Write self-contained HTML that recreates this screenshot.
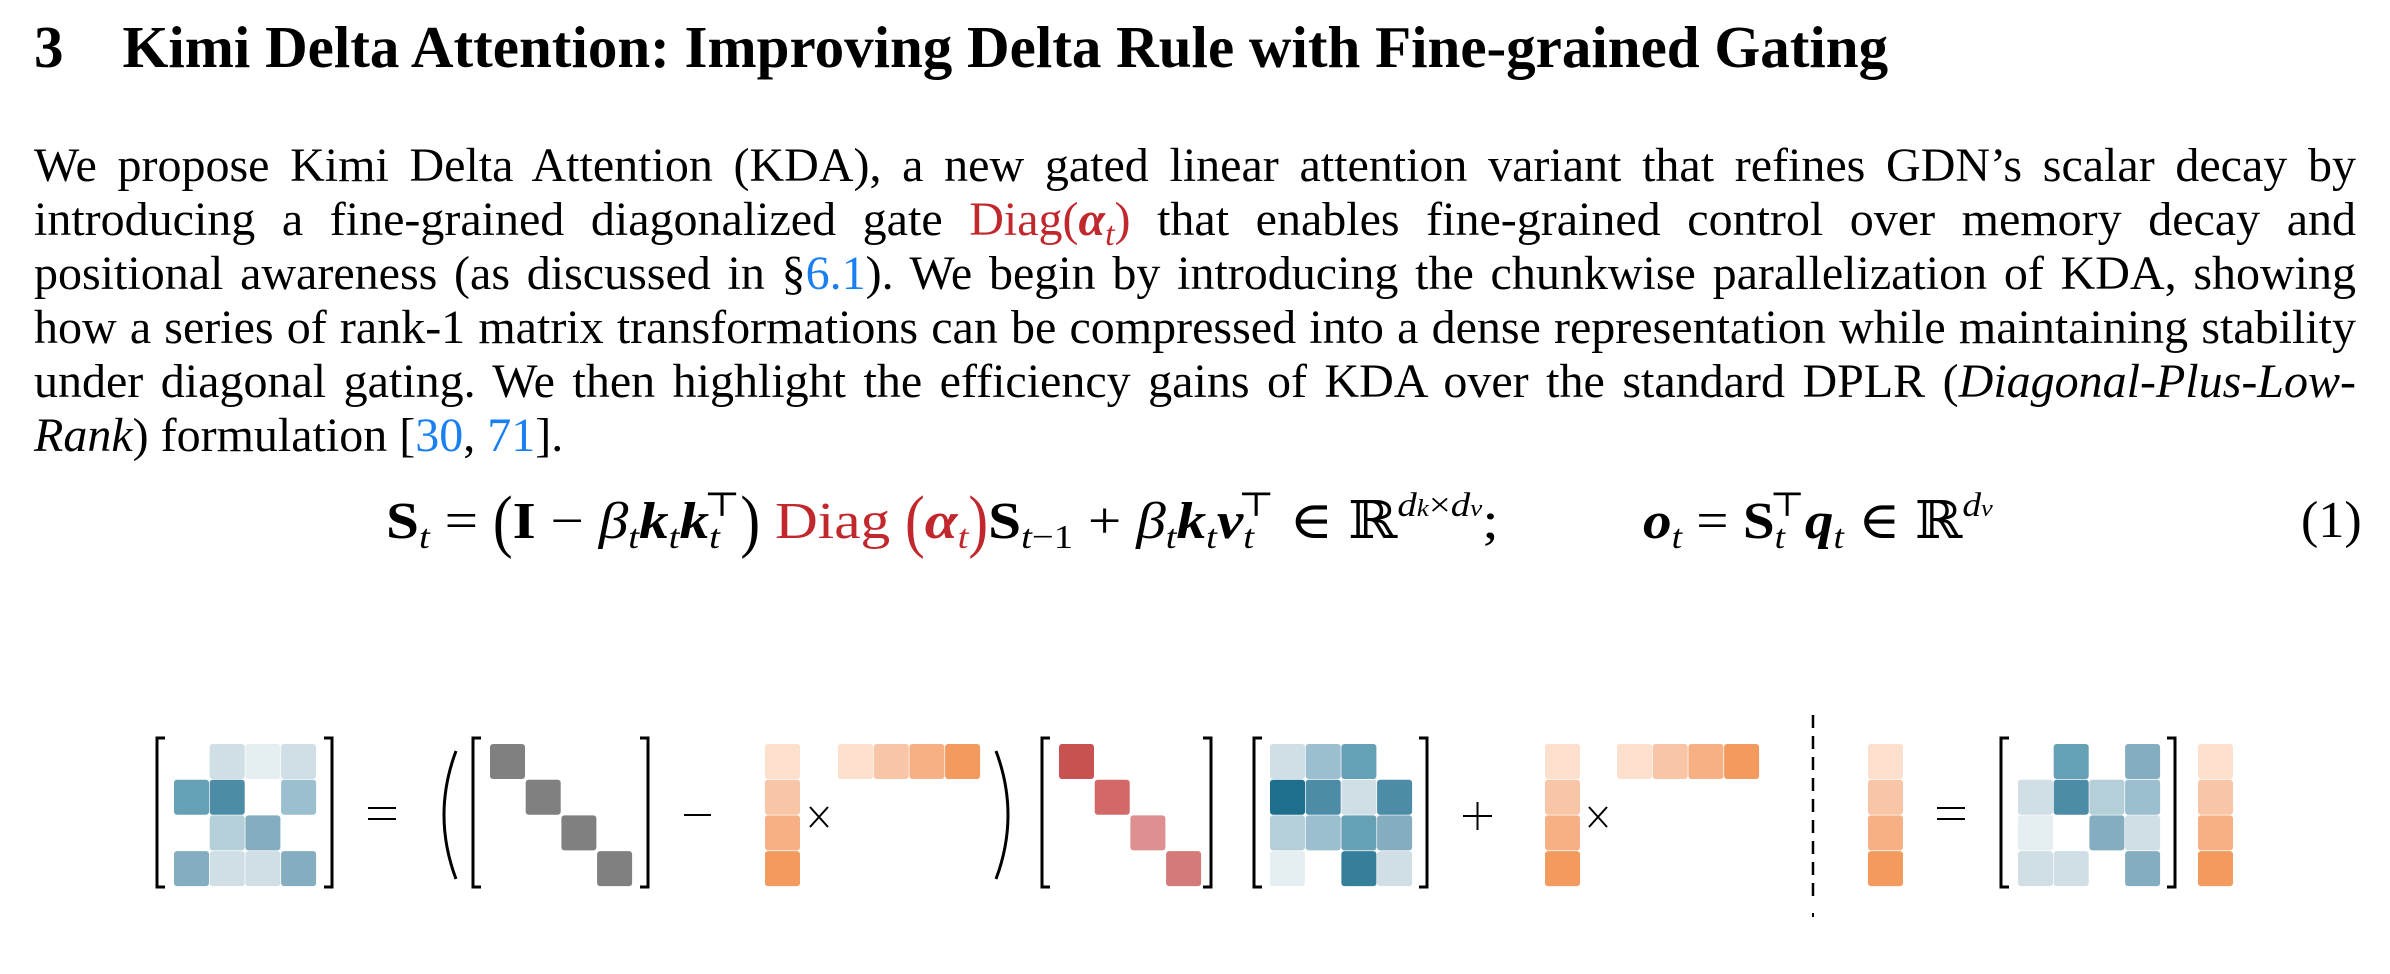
<!DOCTYPE html>
<html><head><meta charset="utf-8"><style>
html,body{margin:0;padding:0;background:#fff;}
body{width:2390px;height:974px;position:relative;overflow:hidden;font-family:"Liberation Serif",serif;color:#000;}
.title{position:absolute;left:34px;top:18px;font-size:59px;line-height:59px;font-weight:bold;white-space:nowrap;}
.para{position:absolute;left:34px;top:139px;width:2322px;font-size:48px;line-height:54px;text-align:justify;text-align-last:left;}
.blue{color:#1a80f0}
.red{color:#c0282d}
.eq{position:absolute;top:491px;font-size:52px;line-height:normal;white-space:nowrap;transform-origin:0 0;}
.b{font-weight:bold}
.i{font-style:italic}
.bi{font-weight:bold;font-style:italic}
sub,sup{font-size:34px;line-height:0;}
sub{vertical-align:-10px}
sup{vertical-align:22px}
.dj{font-family:"DejaVu Serif",serif;}
.big{display:inline-block;transform:scale(1,1.35);}
</style></head><body>
<div class="title">3&nbsp;&nbsp;&nbsp;&nbsp;Kimi Delta Attention: Improving Delta Rule with Fine-grained Gating</div>
<div class="para">We propose Kimi Delta Attention (KDA), a new gated linear attention variant that refines GDN’s scalar decay by introducing a fine-grained diagonalized gate <span class="red">Diag(<span class="bi">α</span><sub class="i">t</sub>)</span> that enables fine-grained control over memory decay and positional awareness (as discussed in §<span class="blue">6.1</span>). We begin by introducing the chunkwise parallelization of KDA, showing how a series of rank-1 matrix transformations can be compressed into a dense representation while maintaining stability under diagonal gating. We then highlight the efficiency gains of KDA over the standard DPLR (<i>Diagonal-Plus-Low-Rank</i>) formulation [<span class="blue">30</span>, <span class="blue">71</span>].</div>

<div class="eq" style="left:386px;transform:scaleX(1.14);"><span class="b">S</span><sub class="i">t</sub> = <span class="big">(</span><span class="b">I</span> − <span class="i">β</span><sub class="i">t</sub><span class="bi">k</span><sub class="i">t</sub><span class="bi">k</span><sub class="i">t</sub><sup class="dj" style="margin-left:-14px">⊤</sup><span class="big">)</span> <span class="red">Diag <span class="big">(</span><span class="bi">α</span><sub class="i">t</sub><span class="big">)</span></span><span class="b">S</span><sub><span class="i">t</span>−1</sub> + <span class="i">β</span><sub class="i">t</sub><span class="bi">k</span><sub class="i">t</sub><span class="bi">v</span><sub class="i">t</sub><sup class="dj" style="margin-left:-14px">⊤</sup> <span class="dj">∈</span> <span class="dj">ℝ</span><sup><span class="i">d<span style="font-size:24px">k</span></span>×<span class="i">d<span style="font-size:24px">v</span></span></sup>;</div>
<div class="eq" style="left:1643px;transform:scaleX(1.1);"><span class="bi">o</span><sub class="i">t</sub> = <span class="b">S</span><sub class="i">t</sub><sup class="dj" style="margin-left:-14px">⊤</sup><span class="bi">q</span><sub class="i">t</sub> <span class="dj">∈</span> <span class="dj">ℝ</span><sup><span class="i">d<span style="font-size:24px">v</span></span></sup></div>
<div class="eq" style="left:2301px;">(1)</div>

<svg width="2390" height="974" style="position:absolute;left:0;top:0" xmlns="http://www.w3.org/2000/svg">
<defs>
<g id="col">
<rect x="0" y="744" width="35" height="35" rx="3" fill="#fcdfcc"/>
<rect x="0" y="779.7" width="35" height="35" rx="3" fill="#f8c5a6"/>
<rect x="0" y="815.4" width="35" height="35" rx="3" fill="#f6b083"/>
<rect x="0" y="851.1" width="35" height="35" rx="3" fill="#f39a5e"/>
</g>
<g id="row">
<rect x="0" y="744" width="35" height="35" rx="3" fill="#fcdfcc"/>
<rect x="35.7" y="744" width="35" height="35" rx="3" fill="#f8c5a6"/>
<rect x="71.4" y="744" width="35" height="35" rx="3" fill="#f6b083"/>
<rect x="107.1" y="744" width="35" height="35" rx="3" fill="#f39a5e"/>
</g>
</defs>
<g fill="none" stroke="#000" stroke-width="3">
<path d="M165 738 H157 V887 H165"/><path d="M324 738 H332 V887 H324"/>
<path d="M481 738 H473 V887 H481"/><path d="M640 738 H648 V887 H640"/>
<path d="M1050 738 H1042 V887 H1050"/><path d="M1203 738 H1211 V887 H1203"/>
<path d="M1262 738 H1254 V887 H1262"/><path d="M1419 738 H1427 V887 H1419"/>
<path d="M2009 738 H2001 V887 H2009"/><path d="M2167 738 H2175 V887 H2167"/>
<path d="M456 751 Q432 815 456 879" stroke-width="3"/>
<path d="M996 751 Q1020 815 996 879" stroke-width="3"/>
</g>
<g stroke="#000" stroke-width="2" fill="none">
<path d="M368 808 H396 M368 819 H396"/>
<path d="M684 815 H711"/>
<path d="M810 807 L828 827 M828 807 L810 827"/>
<path d="M1463 816 H1492 M1477.5 802 V830"/>
<path d="M1589 807 L1607 827 M1607 807 L1589 827"/>
<path d="M1937 808 H1965 M1937 819 H1965"/>
<path d="M1813 715 V900" stroke-width="2.5" stroke-dasharray="13 8"/>
<path d="M1813 913 V917" stroke-width="2"/>
</g>
<g>
<rect x="209.7" y="744" width="35" height="35" rx="3" fill="#cfdfe5"/>
<rect x="245.4" y="744" width="35" height="35" rx="3" fill="#e5eef1"/>
<rect x="281.1" y="744" width="35" height="35" rx="3" fill="#cfdfe5"/>
<rect x="174" y="779.7" width="35" height="35" rx="3" fill="#66a0b5"/>
<rect x="209.7" y="779.7" width="35" height="35" rx="3" fill="#4d8ca6"/>
<rect x="281.1" y="779.7" width="35" height="35" rx="3" fill="#9bbfcf"/>
<rect x="209.7" y="815.4" width="35" height="35" rx="3" fill="#b5cfd9"/>
<rect x="245.4" y="815.4" width="35" height="35" rx="3" fill="#84adbf"/>
<rect x="174" y="851.1" width="35" height="35" rx="3" fill="#84adbf"/>
<rect x="209.7" y="851.1" width="35" height="35" rx="3" fill="#cfdfe5"/>
<rect x="245.4" y="851.1" width="35" height="35" rx="3" fill="#cfdfe5"/>
<rect x="281.1" y="851.1" width="35" height="35" rx="3" fill="#84adbf"/>
</g>
<g fill="#808080">
<rect x="490" y="744" width="35" height="35" rx="3"/>
<rect x="525.7" y="779.7" width="35" height="35" rx="3"/>
<rect x="561.4" y="815.4" width="35" height="35" rx="3"/>
<rect x="597.1" y="851.1" width="35" height="35" rx="3"/>
</g>
<use href="#col" x="765"/>
<use href="#row" x="838"/>
<rect x="1059" y="744" width="35" height="35" rx="3" fill="#c85252"/>
<rect x="1094.7" y="779.7" width="35" height="35" rx="3" fill="#d26868"/>
<rect x="1130.4" y="815.4" width="35" height="35" rx="3" fill="#de9090"/>
<rect x="1166.1" y="851.1" width="35" height="35" rx="3" fill="#d57a7a"/>
<g>
<rect x="1270" y="744" width="35" height="35" rx="3" fill="#cfdfe5"/>
<rect x="1305.7" y="744" width="35" height="35" rx="3" fill="#9bbfcf"/>
<rect x="1341.4" y="744" width="35" height="35" rx="3" fill="#66a0b5"/>
<rect x="1270" y="779.7" width="35" height="35" rx="3" fill="#1e6e8e"/>
<rect x="1305.7" y="779.7" width="35" height="35" rx="3" fill="#4d8ca6"/>
<rect x="1341.4" y="779.7" width="35" height="35" rx="3" fill="#cfdfe5"/>
<rect x="1377.1" y="779.7" width="35" height="35" rx="3" fill="#4d8ca6"/>
<rect x="1270" y="815.4" width="35" height="35" rx="3" fill="#b5cfd9"/>
<rect x="1305.7" y="815.4" width="35" height="35" rx="3" fill="#9bbfcf"/>
<rect x="1341.4" y="815.4" width="35" height="35" rx="3" fill="#66a0b5"/>
<rect x="1377.1" y="815.4" width="35" height="35" rx="3" fill="#84adbf"/>
<rect x="1270" y="851.1" width="35" height="35" rx="3" fill="#e5eef1"/>
<rect x="1341.4" y="851.1" width="35" height="35" rx="3" fill="#357f9b"/>
<rect x="1377.1" y="851.1" width="35" height="35" rx="3" fill="#cfdfe5"/>
</g>
<use href="#col" x="1545"/>
<use href="#row" x="1617"/>
<use href="#col" x="1868"/>
<g>
<rect x="2053.7" y="744" width="35" height="35" rx="3" fill="#66a0b5"/>
<rect x="2125.1" y="744" width="35" height="35" rx="3" fill="#84adbf"/>
<rect x="2018" y="779.7" width="35" height="35" rx="3" fill="#cfdfe5"/>
<rect x="2053.7" y="779.7" width="35" height="35" rx="3" fill="#4d8ca6"/>
<rect x="2089.4" y="779.7" width="35" height="35" rx="3" fill="#b5cfd9"/>
<rect x="2125.1" y="779.7" width="35" height="35" rx="3" fill="#9bbfcf"/>
<rect x="2018" y="815.4" width="35" height="35" rx="3" fill="#e5eef1"/>
<rect x="2089.4" y="815.4" width="35" height="35" rx="3" fill="#84adbf"/>
<rect x="2125.1" y="815.4" width="35" height="35" rx="3" fill="#cfdfe5"/>
<rect x="2018" y="851.1" width="35" height="35" rx="3" fill="#cfdfe5"/>
<rect x="2053.7" y="851.1" width="35" height="35" rx="3" fill="#cfdfe5"/>
<rect x="2125.1" y="851.1" width="35" height="35" rx="3" fill="#84adbf"/>
</g>
<use href="#col" x="2198"/>
</svg>
</body></html>
